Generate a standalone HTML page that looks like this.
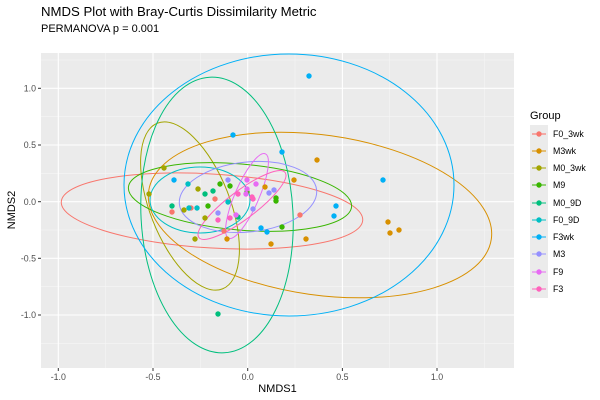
<!DOCTYPE html>
<html><head><meta charset="utf-8"><style>body{margin:0;background:#fff}svg{display:block;font-family:"Liberation Sans","DejaVu Sans",sans-serif}</style></head><body>
<svg width="600" height="400" viewBox="0 0 600 400">
<rect x="41" y="53" width="473" height="315" fill="#EBEBEB"/>
<g stroke="#F5F5F5" stroke-width="0.6">
<line x1="105.6" y1="53" x2="105.6" y2="368"/><line x1="200.3" y1="53" x2="200.3" y2="368"/><line x1="295" y1="53" x2="295" y2="368"/><line x1="389.7" y1="53" x2="389.7" y2="368"/><line x1="484.4" y1="53" x2="484.4" y2="368"/>
<line x1="41" y1="60" x2="514" y2="60"/><line x1="41" y1="116.7" x2="514" y2="116.7"/><line x1="41" y1="173.3" x2="514" y2="173.3"/><line x1="41" y1="230" x2="514" y2="230"/><line x1="41" y1="286.7" x2="514" y2="286.7"/><line x1="41" y1="343.3" x2="514" y2="343.3"/>
</g>
<g stroke="#fff" stroke-width="1.1">
<line x1="58.3" y1="53" x2="58.3" y2="368"/><line x1="153" y1="53" x2="153" y2="368"/><line x1="247.7" y1="53" x2="247.7" y2="368"/><line x1="342.4" y1="53" x2="342.4" y2="368"/><line x1="437" y1="53" x2="437" y2="368"/>
<line x1="41" y1="88.3" x2="514" y2="88.3"/><line x1="41" y1="145" x2="514" y2="145"/><line x1="41" y1="201.7" x2="514" y2="201.7"/><line x1="41" y1="258.3" x2="514" y2="258.3"/><line x1="41" y1="315" x2="514" y2="315"/>
</g>
<g fill="none" stroke-width="1">
<ellipse cx="212" cy="211" rx="151" ry="37" transform="rotate(3.5 212 211)" stroke="#F8766D"/>
<ellipse cx="320" cy="215" rx="173" ry="80" transform="rotate(8 320 215)" stroke="#D89000"/>
<ellipse cx="190" cy="206" rx="89" ry="40" transform="rotate(68.6 190 206)" stroke="#A3A500"/>
<ellipse cx="240" cy="197" rx="112" ry="33" transform="rotate(5 240 197)" stroke="#39B600"/>
<ellipse cx="217" cy="215" rx="76" ry="138" transform="rotate(-3 217 215)" stroke="#00BF7D"/>
<ellipse cx="200" cy="200" rx="50" ry="33" stroke="#00BFC4"/>
<ellipse cx="289" cy="185" rx="165" ry="131" stroke="#00B0F6"/>
<ellipse cx="248" cy="197" rx="69" ry="35" transform="rotate(-6 248 197)" stroke="#9590FF"/>
<ellipse cx="247" cy="196" rx="46" ry="12" transform="rotate(-66.5 247 196)" stroke="#E76BF3"/>
<ellipse cx="242" cy="205" rx="54" ry="14" transform="rotate(-37 242 205)" stroke="#FF62BC"/>
</g>
<g>
<g fill="#F8766D"><circle cx="172" cy="212" r="2.7"/><circle cx="191" cy="208" r="2.7"/><circle cx="215" cy="199" r="2.7"/><circle cx="224" cy="231" r="2.7"/><circle cx="300" cy="215" r="2.7"/></g>
<g fill="#D89000"><circle cx="227" cy="239" r="2.7"/><circle cx="265" cy="187" r="2.7"/><circle cx="271" cy="244" r="2.7"/><circle cx="294" cy="180" r="2.7"/><circle cx="317" cy="160" r="2.7"/><circle cx="306" cy="239" r="2.7"/><circle cx="388" cy="222" r="2.7"/><circle cx="390" cy="233" r="2.7"/><circle cx="399" cy="230" r="2.7"/></g>
<g fill="#A3A500"><circle cx="164" cy="168" r="2.7"/><circle cx="149" cy="194" r="2.7"/><circle cx="198" cy="189" r="2.7"/><circle cx="184" cy="210" r="2.7"/><circle cx="195" cy="239" r="2.7"/><circle cx="205" cy="218" r="2.7"/></g>
<g fill="#39B600"><circle cx="220" cy="184" r="2.7"/><circle cx="230" cy="186" r="2.7"/><circle cx="208" cy="206" r="2.7"/><circle cx="282" cy="227" r="2.7"/><circle cx="276" cy="198" r="2.7"/><circle cx="276" cy="201" r="2.7"/><circle cx="247" cy="192" r="2.7"/></g>
<g fill="#00BF7D"><circle cx="172" cy="206" r="2.7"/><circle cx="205" cy="194" r="2.7"/><circle cx="213" cy="191" r="2.7"/><circle cx="238" cy="217" r="2.7"/><circle cx="218" cy="314" r="2.7"/></g>
<g fill="#00BFC4"><circle cx="197" cy="208" r="2.7"/><circle cx="189" cy="208" r="2.7"/><circle cx="228" cy="202" r="2.7"/><circle cx="188" cy="184" r="2.7"/></g>
<g fill="#00B0F6"><circle cx="233" cy="135" r="2.7"/><circle cx="282" cy="152" r="2.7"/><circle cx="174" cy="180" r="2.7"/><circle cx="261" cy="228" r="2.7"/><circle cx="267" cy="232" r="2.7"/><circle cx="309" cy="76" r="2.7"/><circle cx="383" cy="180" r="2.7"/><circle cx="336" cy="206" r="2.7"/><circle cx="334" cy="216" r="2.7"/></g>
<g fill="#9590FF"><circle cx="228" cy="180" r="2.7"/><circle cx="218" cy="213" r="2.7"/><circle cx="269" cy="193" r="2.7"/><circle cx="274" cy="190" r="2.7"/><circle cx="253" cy="209" r="2.7"/></g>
<g fill="#E76BF3"><circle cx="247" cy="180" r="2.7"/><circle cx="256" cy="184" r="2.7"/><circle cx="247" cy="189" r="2.7"/><circle cx="236" cy="215" r="2.7"/><circle cx="246" cy="194" r="2.7"/></g>
<g fill="#FF62BC"><circle cx="218" cy="220" r="2.7"/><circle cx="238" cy="194" r="2.7"/><circle cx="252" cy="197" r="2.7"/><circle cx="230" cy="218" r="2.7"/><circle cx="253" cy="199" r="2.7"/></g>
</g>
<g stroke="#333" stroke-width="1"><line x1="38" y1="88.3" x2="41" y2="88.3"/><line x1="38" y1="145" x2="41" y2="145"/><line x1="38" y1="201.7" x2="41" y2="201.7"/><line x1="38" y1="258.3" x2="41" y2="258.3"/><line x1="38" y1="315" x2="41" y2="315"/>
<line x1="58.3" y1="368" x2="58.3" y2="371"/><line x1="153" y1="368" x2="153" y2="371"/><line x1="247.7" y1="368" x2="247.7" y2="371"/><line x1="342.4" y1="368" x2="342.4" y2="371"/><line x1="437" y1="368" x2="437" y2="371"/></g>
<g font-size="8.8" fill="#4D4D4D" text-anchor="end"><text x="36" y="91.5">1.0</text><text x="36" y="148">0.5</text><text x="36" y="205">0.0</text><text x="36" y="261.5">-0.5</text><text x="36" y="318">-1.0</text></g>
<g font-size="8.8" fill="#4D4D4D" text-anchor="middle"><text x="58.3" y="380">-1.0</text><text x="153" y="380">-0.5</text><text x="247.7" y="380">0.0</text><text x="342.4" y="380">0.5</text><text x="437" y="380">1.0</text></g>
<text x="277.5" y="392" font-size="11" text-anchor="middle" fill="#000">NMDS1</text>
<text x="0" y="0" font-size="11" text-anchor="middle" transform="translate(15 210) rotate(-90)">NMDS2</text>
<text x="41" y="16" font-size="13.2" fill="#000">NMDS Plot with Bray-Curtis Dissimilarity Metric</text>
<text x="41" y="32" font-size="11" fill="#000">PERMANOVA p = 0.001</text>
<text x="530" y="119" font-size="11">Group</text>
<rect x="530" y="125" width="18" height="173" fill="#EBEBEB"/>
<g font-size="8.8" fill="#000">
<g stroke-width="1.1"><line x1="532" y1="134" x2="546" y2="134" stroke="#F8766D"/><circle cx="539" cy="134" r="2.7" fill="#F8766D"/><text x="553" y="137">F0_3wk</text></g>
<g><line x1="532" y1="151" x2="546" y2="151" stroke="#D89000"/><circle cx="539" cy="151" r="2.7" fill="#D89000"/><text x="553" y="154">M3wk</text></g>
<g><line x1="532" y1="168" x2="546" y2="168" stroke="#A3A500"/><circle cx="539" cy="168" r="2.7" fill="#A3A500"/><text x="553" y="171">M0_3wk</text></g>
<g><line x1="532" y1="185" x2="546" y2="185" stroke="#39B600"/><circle cx="539" cy="185" r="2.7" fill="#39B600"/><text x="553" y="188">M9</text></g>
<g><line x1="532" y1="203" x2="546" y2="203" stroke="#00BF7D"/><circle cx="539" cy="203" r="2.7" fill="#00BF7D"/><text x="553" y="206">M0_9D</text></g>
<g><line x1="532" y1="220" x2="546" y2="220" stroke="#00BFC4"/><circle cx="539" cy="220" r="2.7" fill="#00BFC4"/><text x="553" y="223">F0_9D</text></g>
<g><line x1="532" y1="237" x2="546" y2="237" stroke="#00B0F6"/><circle cx="539" cy="237" r="2.7" fill="#00B0F6"/><text x="553" y="240">F3wk</text></g>
<g><line x1="532" y1="254" x2="546" y2="254" stroke="#9590FF"/><circle cx="539" cy="254" r="2.7" fill="#9590FF"/><text x="553" y="257">M3</text></g>
<g><line x1="532" y1="272" x2="546" y2="272" stroke="#E76BF3"/><circle cx="539" cy="272" r="2.7" fill="#E76BF3"/><text x="553" y="275">F9</text></g>
<g><line x1="532" y1="289" x2="546" y2="289" stroke="#FF62BC"/><circle cx="539" cy="289" r="2.7" fill="#FF62BC"/><text x="553" y="292">F3</text></g>
</g>
</svg>
</body></html>
